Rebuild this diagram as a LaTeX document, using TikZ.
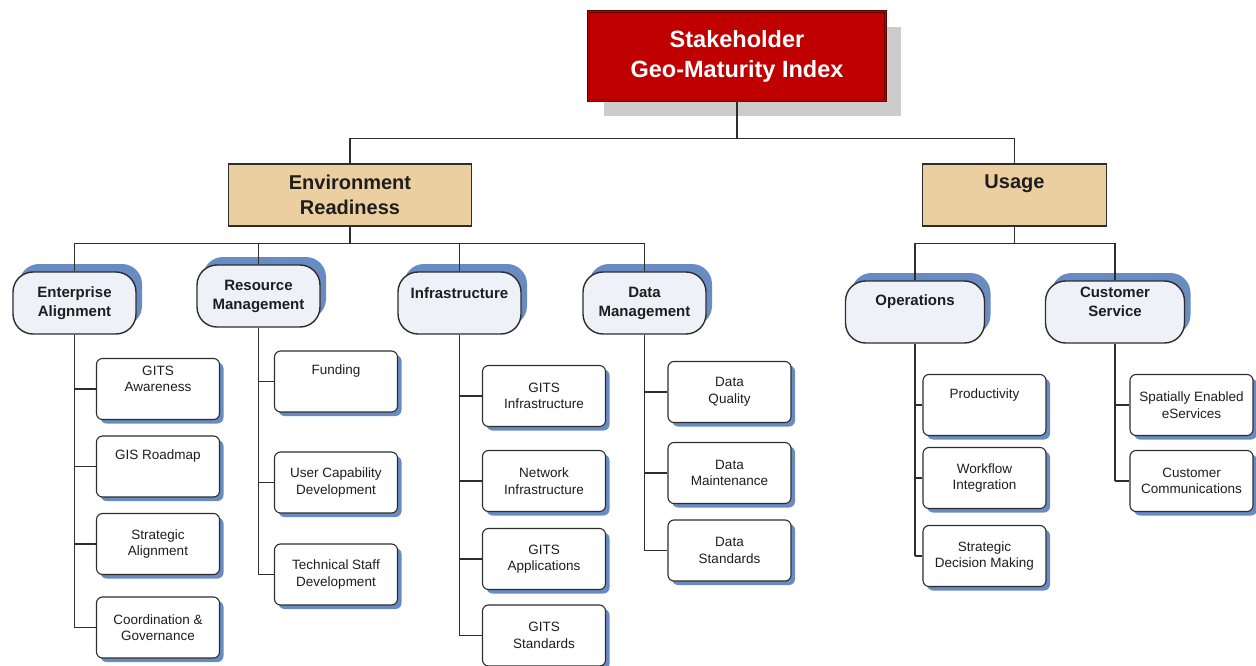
\documentclass[tikz,border=0pt]{standalone}
\usepackage{fontspec}
\setmainfont{Liberation Sans}
\usetikzlibrary{positioning, shadows}

\definecolor{titlered}{RGB}{192,0,0}
\definecolor{titleedge}{RGB}{96,0,0}
\definecolor{shadowgray}{RGB}{204,204,204}
\definecolor{tanfill}{RGB}{235,207,160}
\definecolor{areafill}{RGB}{238,241,247}
\definecolor{shadowblue}{RGB}{104,139,194}
\definecolor{edgegray}{RGB}{45,45,45}
\definecolor{textdark}{RGB}{30,30,30}

% text centred in the upper part of a box
\newcommand{\toptext}[3][38pt]{\parbox[c][58pt][t]{#2}{\parbox[c][#1][c]{#2}{\centering #3}}}

\begin{document}
\begin{tikzpicture}[
    x=1pt, y=-1pt,
    wire/.style={draw=edgegray, line width=1.1pt},
    title/.style={draw=titleedge, double=titlered, double distance=1.6pt, line width=0.9pt, fill=titlered, text=white, font=\bfseries\fontsize{23.5}{30}\selectfont, align=center, minimum width=297, minimum height=89, drop shadow={shadow xshift=15pt, shadow yshift=-16pt, fill=shadowgray, opacity=1}},
    pillar/.style={draw=edgegray, line width=1.1pt, fill=tanfill, text=textdark, font=\bfseries\fontsize{20}{25}\selectfont, align=center, minimum height=62, inner sep=1pt},
    area/.style={draw=edgegray, line width=1.4pt, fill=areafill, rounded corners=20pt, minimum width=123, minimum height=62, inner sep=1pt, align=center, text=textdark, font=\bfseries\fontsize{15}{19}\selectfont, drop shadow={shadow xshift=6pt, shadow yshift=8pt, fill=shadowblue, opacity=1}},
    leaf/.style={draw=edgegray, line width=1.1pt, fill=white, rounded corners=6pt, minimum width=123, minimum height=61, inner sep=1pt, align=center, text=textdark, font=\fontsize{13.5}{16.5}\selectfont, drop shadow={shadow xshift=4pt, shadow yshift=-4pt, fill=shadowblue, opacity=1}},
]
\useasboundingbox (0,0) rectangle (1256,666);

% Index and its two pillars
\node[title] (title) at (737,56) {Stakeholder\\Geo-Maturity Index};
\node[pillar, minimum width=243] (env) at (350,195) {Environment\\Readiness};
\node[pillar, minimum width=184] (usage) at (1014.5,195) {\toptext[35pt]{170pt}{Usage}};

% Areas
\node[area] (ea) at (74.5,303) {Enterprise\\Alignment};
\node[area] (rm) at (258.5,296) {Resource\\Management};
\node[area] (inf) at (459.5,303) {\toptext{118pt}{Infrastructure}};
\node[area] (dm) at (644.5,303) {Data\\Management};
\node[area, minimum width=139] (ops) at (915,312) {\toptext{132pt}{Operations}};
\node[area, minimum width=139] (cs) at (1115,312) {\toptext{132pt}{Customer\\Service}};

% Buses
\draw[wire] (title.south) -- ++(0,38) coordinate (topbus);
\draw[wire] (env.north) |- (topbus -| usage.north) -- (usage.north);
\draw[wire] (env.south) -- ++(0,17) coordinate (envbus);
\draw[wire] (ea.north) |- (envbus -| dm.north) -- (dm.north);
\draw[wire] (rm.north) -- (rm.north |- envbus);
\draw[wire] (inf.north) -- (inf.north |- envbus);
\draw[wire] (usage.south) -- ++(0,17) coordinate (usebus);
\draw[wire] (ops.north) |- (usebus -| cs.north) -- (cs.north);

% Enterprise Alignment
\foreach \i/\ypos/\txt in {1/389/{\toptext{118pt}{GITS\\Awareness}}, 2/466.5/{\toptext{118pt}{GIS Roadmap}}, 3/544/{Strategic\\Alignment}, 4/627.5/{Coordination \&\\Governance}} {
    \node[leaf] (ea_\i) at (158,\ypos) {\txt};
    \draw[wire] (ea_\i.west) -- (ea_\i.west -| ea.south);
}
\draw[wire] (ea.south) -- (ea.south |- ea_4.west);

% Resource Management
\foreach \i/\ypos/\txt in {1/381.5/{\toptext{118pt}{Funding}}, 2/482.5/{User Capability\\Development}, 3/574.5/{Technical Staff\\Development}} {
    \node[leaf] (rm_\i) at (336,\ypos) {\txt};
    \draw[wire] (rm_\i.west) -- (rm_\i.west -| rm.south);
}
\draw[wire] (rm.south) -- (rm.south |- rm_3.west);

% Infrastructure
\foreach \i/\ypos/\txt in {1/396/{GITS\\Infrastructure}, 2/481/{Network\\Infrastructure}, 3/559/{GITS\\Applications}, 4/635.5/{GITS\\Standards}} {
    \node[leaf] (inf_\i) at (544,\ypos) {\txt};
    \draw[wire] (inf_\i.west) -- (inf_\i.west -| inf.south);
}
\draw[wire] (inf.south) -- (inf.south |- inf_4.west);

% Data Management
\foreach \i/\ypos/\txt in {1/392/{Data\\Quality}, 2/473/{Data\\Maintenance}, 3/550.5/{Data\\Standards}} {
    \node[leaf] (dm_\i) at (729.5,\ypos) {\txt};
    \draw[wire] (dm_\i.west) -- (dm_\i.west -| dm.south);
}
\draw[wire] (dm.south) -- (dm.south |- dm_3.west);

% Operations
\foreach \i/\ypos/\txt in {1/405/{\toptext{118pt}{Productivity}}, 2/478/{Workflow\\Integration}, 3/556/{Strategic\\Decision Making}} {
    \node[leaf] (ops_\i) at (984.5,\ypos) {\txt};
    \draw[wire] (ops_\i.west) -- (ops_\i.west -| ops.south);
}
\draw[wire] (ops.south) -- (ops.south |- ops_3.west);

% Customer Service
\foreach \i/\ypos/\txt in {1/405/{Spatially Enabled\\eServices}, 2/481/{Customer\\Communications}} {
    \node[leaf] (cs_\i) at (1191.5,\ypos) {\txt};
    \draw[wire] (cs_\i.west) -- (cs_\i.west -| cs.south);
}
\draw[wire] (cs.south) -- (cs.south |- cs_2.west);

\end{tikzpicture}
\end{document}
